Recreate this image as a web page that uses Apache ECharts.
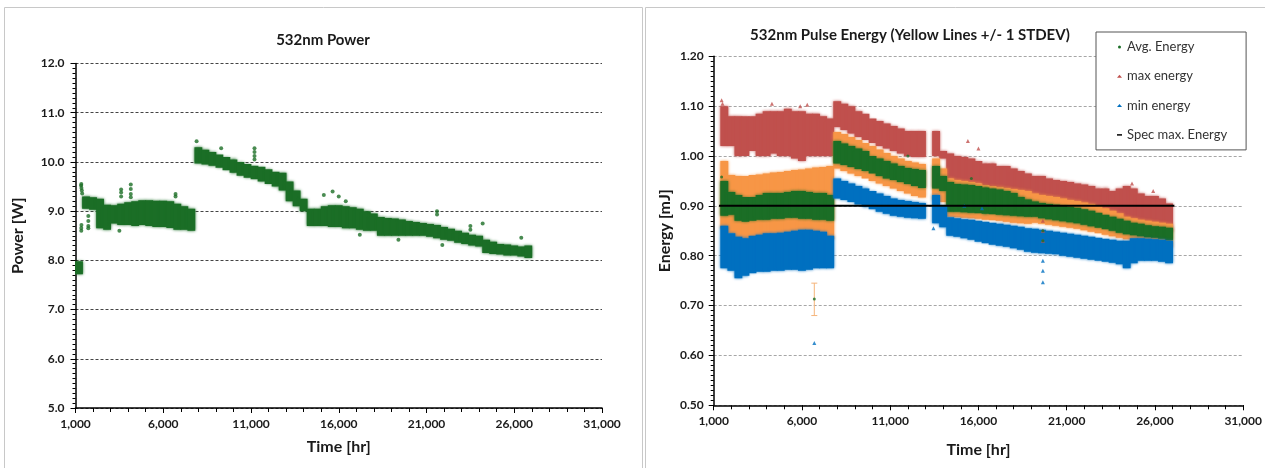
<!DOCTYPE html>
<html><head><meta charset="utf-8">
<script src="https://cdn.jsdelivr.net/npm/echarts/dist/echarts.min.js"></script>
<style>html,body{margin:0;padding:0;background:#fff}#c{width:1265px;height:468px}</style>
</head><body><div id="c"></div>
<script>
// ---- bins (400 hr wide, centre hours) ----
const BIN = 400;
const binHours = [1200,1600,2000,2400,2800,3200,3600,4000,4400,4800,5200,5600,6000,6400,6800,7200,7600,8000,8400,8800,9200,9600,10000,10400,10800,11200,11600,12000,12400,12800,13200,13600,14000,14400,14800,15200,15600,16000,16400,16800,17200,17600,18000,18400,18800,19200,19600,20000,20400,20800,21200,21600,22000,22400,22800,23200,23600,24000,24400,24800,25200,25600,26000,26400,26800];

// ---- 532nm Power [W] : low / high of the point cloud in each bin ----
const powerLo = [7.72,9.05,9.03,8.65,8.62,8.75,8.72,8.72,8.70,8.72,8.70,8.68,8.68,8.66,8.62,8.62,8.60,9.97,9.95,9.92,9.88,9.83,9.78,9.72,9.68,9.65,9.60,9.55,9.50,9.42,9.20,9.10,9.00,8.70,8.70,8.70,8.68,8.68,8.65,8.65,8.62,8.60,8.60,8.50,8.50,8.50,8.50,8.50,8.50,8.50,8.48,8.45,8.42,8.40,8.36,8.33,8.30,8.28,8.15,8.13,8.12,8.10,8.10,8.08,8.05];
const powerHi = [7.98,9.30,9.28,9.25,9.13,9.12,9.15,9.18,9.20,9.22,9.22,9.21,9.21,9.20,9.15,9.10,9.05,10.30,10.25,10.20,10.15,10.10,10.05,10.00,9.96,9.92,9.90,9.85,9.80,9.78,9.60,9.42,9.25,9.05,9.05,9.10,9.12,9.12,9.10,9.08,9.05,9.00,8.95,8.88,8.86,8.85,8.83,8.80,8.78,8.76,8.74,8.72,8.68,8.64,8.60,8.56,8.52,8.50,8.42,8.38,8.33,8.32,8.30,8.28,8.30];
const powerExtraHours  = [1320,1340,1360,1380,1330,1330,1330,1340,1730,1730,1730,1730,3500,3600,3600,3600,4150,4150,4150,4150,6700,6700,7900,9300,11200,11200,11200,11200,15150,15650,16000,16400,17200,19400,21600,21600,21900,23500,23500,24200,26400];
const powerExtraValues = [9.52,9.47,9.42,9.36,9.55,8.60,8.66,8.72,8.90,8.80,8.70,8.65,8.60,9.44,9.38,9.30,9.54,9.45,9.35,9.28,9.35,9.30,10.42,10.28,10.28,10.20,10.12,10.05,9.33,9.40,9.30,9.20,8.52,8.42,9.00,8.93,8.31,8.70,8.62,8.75,8.46];

// ---- 532nm Pulse Energy [mJ] (null = no data in that bin) ----
const maxLo = [null,1.020,1.020,1.000,1.000,1.010,1.000,1.000,1.005,1.000,1.000,0.995,0.990,1.000,1.000,1.000,1.000,1.058,1.052,1.045,1.038,1.032,1.026,1.020,1.015,1.010,1.005,1.000,0.998,0.998,null,1.000,0.995,0.955,0.952,0.950,0.948,0.945,0.940,0.938,0.935,0.930,0.925,0.920,0.915,0.910,0.900,0.898,0.895,0.893,0.890,0.888,0.886,0.884,0.882,0.880,0.878,0.875,0.860,0.855,0.855,0.852,0.850,0.850,0.848];
const maxHi = [null,1.100,1.080,1.080,1.080,1.080,1.085,1.090,1.090,1.090,1.095,1.090,1.090,1.085,1.085,1.080,1.075,1.110,1.105,1.100,1.090,1.085,1.075,1.070,1.065,1.060,1.055,1.050,1.050,1.050,null,1.050,1.010,1.005,1.000,0.998,0.995,0.990,0.985,0.985,0.980,0.980,0.975,0.970,0.965,0.960,0.960,0.955,0.952,0.950,0.948,0.945,0.943,0.940,0.935,0.935,0.930,0.935,0.940,0.935,0.925,0.920,0.920,0.915,0.905];
const stdLo = [null,0.855,0.845,0.832,0.832,0.835,0.836,0.838,0.838,0.839,0.840,0.840,0.838,0.838,0.836,0.835,0.833,0.975,0.970,0.965,0.960,0.955,0.950,0.945,0.940,0.935,0.930,0.925,0.920,0.917,null,0.912,0.908,0.878,0.877,0.876,0.875,0.874,0.872,0.871,0.870,0.868,0.866,0.865,0.864,0.866,0.864,0.862,0.860,0.858,0.856,0.854,0.851,0.848,0.845,0.842,0.839,0.836,0.833,0.830,0.828,0.826,0.823,0.820,0.816];
const stdHi = [null,0.990,0.962,0.960,0.960,0.962,0.963,0.965,0.967,0.968,0.970,0.972,0.973,0.975,0.977,0.978,0.980,1.048,1.044,1.038,1.032,1.026,1.020,1.013,1.006,1.000,0.995,0.990,0.987,0.984,null,0.995,0.975,0.955,0.952,0.950,0.948,0.945,0.942,0.940,0.938,0.936,0.934,0.932,0.930,0.925,0.922,0.920,0.918,0.915,0.912,0.910,0.907,0.904,0.900,0.895,0.890,0.885,0.878,0.875,0.872,0.870,0.868,0.866,0.864];
const avgLo = [null,0.880,0.882,0.870,0.868,0.870,0.872,0.872,0.874,0.874,0.876,0.876,0.874,0.874,0.872,0.872,0.870,0.985,0.982,0.978,0.974,0.970,0.965,0.960,0.955,0.952,0.948,0.944,0.940,0.936,null,0.935,0.930,0.888,0.888,0.887,0.886,0.885,0.884,0.883,0.882,0.881,0.880,0.879,0.878,0.878,0.875,0.873,0.871,0.869,0.867,0.865,0.862,0.859,0.856,0.853,0.850,0.846,0.843,0.841,0.839,0.837,0.836,0.834,0.831];
const avgHi = [null,0.950,0.928,0.922,0.918,0.918,0.922,0.926,0.926,0.926,0.928,0.930,0.930,0.928,0.926,0.926,0.922,1.030,1.025,1.020,1.015,1.010,1.000,0.995,0.990,0.985,0.980,0.976,0.974,0.972,null,0.980,0.960,0.948,0.944,0.943,0.942,0.940,0.937,0.935,0.933,0.930,0.926,0.918,0.913,0.909,0.906,0.904,0.902,0.900,0.898,0.896,0.893,0.890,0.886,0.882,0.878,0.874,0.870,0.866,0.864,0.861,0.859,0.858,0.856];
const minLo = [null,0.775,0.770,0.755,0.760,0.765,0.768,0.768,0.770,0.770,0.772,0.772,0.770,0.772,0.775,0.775,0.775,0.915,0.912,0.908,0.903,0.898,0.893,0.888,0.884,0.880,0.878,0.876,0.875,0.874,null,0.865,0.857,0.840,0.838,0.835,0.832,0.828,0.825,0.822,0.820,0.818,0.815,0.812,0.808,0.806,0.805,0.804,0.803,0.800,0.798,0.796,0.794,0.792,0.790,0.788,0.786,0.783,0.775,0.785,0.790,0.790,0.790,0.788,0.785];
const minHi = [null,0.860,0.845,0.838,0.835,0.840,0.842,0.845,0.845,0.846,0.848,0.850,0.852,0.852,0.850,0.848,0.840,0.955,0.950,0.945,0.940,0.935,0.930,0.925,0.920,0.915,0.912,0.910,0.908,0.906,null,0.922,0.900,0.877,0.875,0.873,0.872,0.870,0.868,0.866,0.864,0.862,0.860,0.858,0.855,0.854,0.852,0.850,0.848,0.846,0.844,0.842,0.840,0.838,0.836,0.834,0.832,0.830,0.830,0.835,0.835,0.834,0.833,0.832,0.830];
const avgExtraHours  = [1450,6700,19650,19650,12000,15600];
const avgExtraValues = [0.958,0.713,0.830,0.850,1.000,0.955];
const maxExtraHours  = [1450,1500,4300,5900,6300,15400,16000,19650,19650,19650,24700,25900];
const maxExtraValues = [1.112,1.105,1.105,1.100,1.103,1.030,1.015,0.830,0.850,0.870,0.945,0.930];
const minExtraHours  = [6700,19650,19650,19650,13450,15200,16200];
const minExtraValues = [0.625,0.747,0.770,0.790,0.855,0.900,0.895];
const errHours = [6700];
const errLo = [0.680];
const errHi = [0.745];
const specHours = [1300, 27100];
const specValue = 0.90;

// ---- colours ----
const GREEN = '#1b6e26', RED = '#c0504d', BLUE = '#0070c0', ORANGE = '#f79646';
const FONT = 'Lato, "Liberation Sans", sans-serif';

function bandData(lo, hi) {
  const out = [];
  binHours.forEach((t, i) => { if (lo[i] != null) out.push([t, lo[i], hi[i]]); });
  return out;
}
function pts(h, v) { return h.map((t, i) => [t, v[i]]); }
function bandRender(params, api) {
  const t = api.value(0), lo = api.value(1), hi = api.value(2);
  const p1 = api.coord([t - BIN / 2, hi]);
  const p2 = api.coord([t + BIN / 2, lo]);
  const c = api.visual('color');
  return { type: 'rect',
    shape: { x: p1[0] - 0.4, y: p1[1], width: p2[0] - p1[0] + 0.8, height: p2[1] - p1[1] },
    style: { fill: c, shadowBlur: 3, shadowColor: c } };
}
function errRender(params, api) {
  const t = api.value(0);
  const a = api.coord([t, api.value(2)]), b = api.coord([t, api.value(1)]);
  const st = { stroke: '#f5b47a', lineWidth: 1 };
  return { type: 'group', children: [
    { type: 'line', shape: { x1: a[0], y1: a[1], x2: b[0], y2: b[1] }, style: st },
    { type: 'line', shape: { x1: a[0] - 3, y1: a[1], x2: a[0] + 3, y2: a[1] }, style: st },
    { type: 'line', shape: { x1: b[0] - 3, y1: b[1], x2: b[0] + 3, y2: b[1] }, style: st }
  ]};
}

const tickLabel = { fontFamily: FONT, fontWeight: 'bold', fontSize: 12, color: '#1a1a1a' };
const nameStyle = { fontFamily: FONT, fontWeight: 'bold', fontSize: 16, color: '#1a1a1a' };
function xAxis(grid, gap) {
  return { type: 'value', gridIndex: grid, min: 1000, max: 31000, interval: 5000, position: 'bottom',
    name: 'Time [hr]', nameLocation: 'middle', nameGap: gap, nameTextStyle: nameStyle,
    axisLine: { show: true, onZero: false, lineStyle: { color: '#000', width: 1.5 } },
    axisTick: { show: true, length: 5, lineStyle: { color: '#000', width: 1 } },
    splitLine: { show: false },
    axisLabel: Object.assign({ margin: 10, formatter: v => v.toLocaleString('en-US') }, tickLabel) };
}
// minor-tick-only axes
function xMinor(grid) {
  return { type: 'value', gridIndex: grid, min: 1000, max: 31000, interval: 1000, position: 'bottom',
    axisLine: { show: false, onZero: false }, axisLabel: { show: false }, splitLine: { show: false },
    axisTick: { show: true, length: 4, lineStyle: { color: '#000', width: 1 } } };
}
function yMinor(grid, min, max, step) {
  return { type: 'value', gridIndex: grid, min: min, max: max, interval: step, position: 'left',
    axisLine: { show: false, onZero: false }, axisLabel: { show: false }, splitLine: { show: false },
    axisTick: { show: true, length: 3, lineStyle: { color: '#000', width: 1 } } };
}

const chart = echarts.init(document.getElementById('c'), null, { renderer: 'canvas' });
chart.setOption({
  animation: false,
  backgroundColor: '#fff',
  graphic: [
    { type: 'rect', shape: { x: 4.5, y: 7.5, width: 638, height: 470 }, style: { fill: 'none', stroke: '#c8c8c8', lineWidth: 1 }, z: -1 },
    { type: 'rect', shape: { x: 645.5, y: 7.5, width: 630, height: 470 }, style: { fill: 'none', stroke: '#c8c8c8', lineWidth: 1 }, z: -1 }
  ],
  title: [
    { text: '532nm Power', left: 318, top: 28, textAlign: 'center',
      textStyle: { fontFamily: FONT, fontWeight: 'bold', fontSize: 15, color: '#1a1a1a' } },
    { text: '532nm Pulse Energy (Yellow Lines +/- 1 STDEV)', left: 905, top: 23, textAlign: 'center',
      textStyle: { fontFamily: FONT, fontWeight: 'bold', fontSize: 15, color: '#1a1a1a' } }
  ],
  legend: {
    left: 1096, top: 32, orient: 'vertical', selectedMode: false,
    backgroundColor: '#fff', borderColor: '#555', borderWidth: 1,
    padding: [8, 19, 8, 21], itemGap: 15.3, itemWidth: 5, itemHeight: 3,
    textStyle: { fontFamily: FONT, fontSize: 13, color: '#333', lineHeight: 14 },
    data: [
      { name: 'Avg. Energy', icon: 'circle' },
      { name: 'max energy', icon: 'triangle' },
      { name: 'min energy', icon: 'triangle' },
      { name: 'Spec max. Energy', icon: 'path://M0,0L10,0L10,3L0,3Z' }
    ]
  },
  grid: [
    { left: 75.5, right: 663, top: 63.5, bottom: 60 },
    { left: 713.7, right: 21, top: 56.3, bottom: 62.7 }
  ],
  xAxis: [ xAxis(0, 31), xAxis(1, 37), xMinor(0), xMinor(1) ],
  yAxis: [
    { type: 'value', gridIndex: 0, min: 5, max: 12, interval: 1, position: 'left',
      name: 'Power [W]', nameLocation: 'middle', nameGap: 50, nameTextStyle: nameStyle,
      axisLine: { show: true, onZero: false, lineStyle: { color: '#000', width: 1.5 } },
      axisTick: { show: true, length: 5, lineStyle: { color: '#000', width: 1 } },
      splitLine: { show: true, lineStyle: { color: '#444', type: [3, 2], width: 1 } },
      axisLabel: Object.assign({ margin: 11, formatter: v => v.toFixed(1) }, tickLabel) },
    { type: 'value', gridIndex: 1, min: 0.5, max: 1.2, interval: 0.1, position: 'left',
      name: 'Energy [mJ]', nameLocation: 'middle', nameGap: 41, nameTextStyle: nameStyle,
      axisLine: { show: true, onZero: false, lineStyle: { color: '#000', width: 1.5 } },
      axisTick: { show: true, length: 5, lineStyle: { color: '#000', width: 1 } },
      splitLine: { show: true, lineStyle: { color: '#a6a6a6', type: [3, 2], width: 1 } },
      axisLabel: Object.assign({ margin: 10, formatter: v => v.toFixed(2) }, tickLabel) },
    yMinor(0, 5, 12, 0.1),
    yMinor(1, 0.5, 1.2, 0.01)
  ],
  series: [
    // power
    { type: 'custom', name: 'Power', xAxisIndex: 0, yAxisIndex: 0, renderItem: bandRender,
      encode: { x: 0, y: [1, 2] }, itemStyle: { color: GREEN }, data: bandData(powerLo, powerHi), clip: true },
    { type: 'scatter', name: 'Power', xAxisIndex: 0, yAxisIndex: 0, symbol: 'circle', symbolSize: 4,
      itemStyle: { color: GREEN }, data: pts(powerExtraHours, powerExtraValues) },
    // energy
    { type: 'custom', name: 'max energy', xAxisIndex: 1, yAxisIndex: 1, renderItem: bandRender,
      encode: { x: 0, y: [1, 2] }, itemStyle: { color: RED }, data: bandData(maxLo, maxHi), clip: true },
    { type: 'custom', name: 'STDEV', xAxisIndex: 1, yAxisIndex: 1, renderItem: bandRender,
      encode: { x: 0, y: [1, 2] }, itemStyle: { color: ORANGE }, data: bandData(stdLo, stdHi), clip: true },
    { type: 'custom', name: 'Avg. Energy', xAxisIndex: 1, yAxisIndex: 1, renderItem: bandRender,
      encode: { x: 0, y: [1, 2] }, itemStyle: { color: GREEN }, data: bandData(avgLo, avgHi), clip: true },
    { type: 'custom', name: 'min energy', xAxisIndex: 1, yAxisIndex: 1, renderItem: bandRender,
      encode: { x: 0, y: [1, 2] }, itemStyle: { color: BLUE }, data: bandData(minLo, minHi), clip: true },
    { type: 'custom', name: 'STDEV', xAxisIndex: 1, yAxisIndex: 1, renderItem: errRender,
      encode: { x: 0, y: [1, 2] }, data: errHours.map((t, i) => [t, errLo[i], errHi[i]]) },
    { type: 'scatter', name: 'max energy', xAxisIndex: 1, yAxisIndex: 1, symbol: 'triangle', symbolSize: 4,
      itemStyle: { color: RED }, data: pts(maxExtraHours, maxExtraValues) },
    { type: 'scatter', name: 'Avg. Energy', xAxisIndex: 1, yAxisIndex: 1, symbol: 'circle', symbolSize: 3,
      itemStyle: { color: GREEN }, data: pts(avgExtraHours, avgExtraValues) },
    { type: 'scatter', name: 'min energy', xAxisIndex: 1, yAxisIndex: 1, symbol: 'triangle', symbolSize: 4,
      itemStyle: { color: BLUE }, data: pts(minExtraHours, minExtraValues) },
    { type: 'line', name: 'Spec max. Energy', xAxisIndex: 1, yAxisIndex: 1, symbol: 'none',
      lineStyle: { color: '#000', width: 2 }, itemStyle: { color: '#000' }, z: 5,
      data: specHours.map(t => [t, specValue]) }
  ]
});
</script></body></html>
